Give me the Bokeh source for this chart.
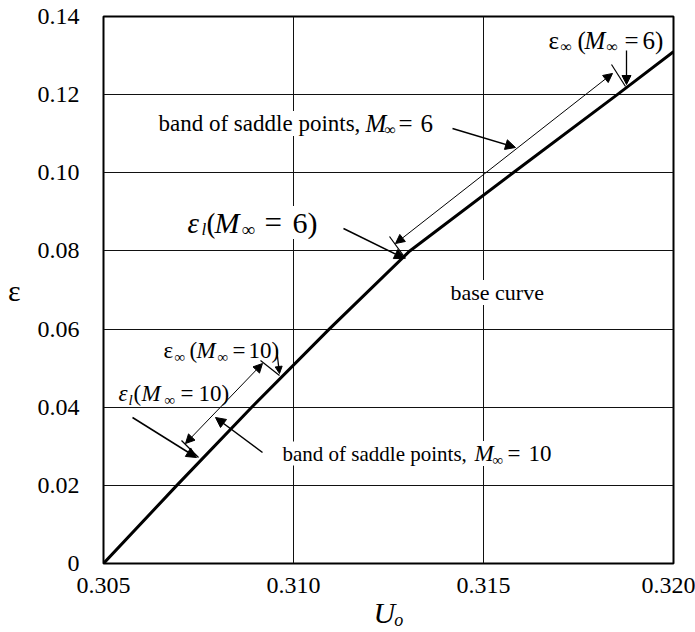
from bokeh.plotting import figure
from bokeh.models import Range1d, FixedTicker, Label, Arrow, NormalHead
from bokeh.embed import file_html
from bokeh.resources import INLINE

# ---- data ----
u0_base = [0.3050, 0.30693, 0.30890, 0.31094, 0.31306, 0.31578, 0.31852, 0.3200]
eps_base = [0.0, 0.02, 0.04, 0.06, 0.08, 0.10, 0.12, 0.131]

x_ticks = [0.305, 0.310, 0.315, 0.320]
x_tick_labels = ["0.305", "0.310", "0.315", "0.320"]
y_ticks = [0.0, 0.02, 0.04, 0.06, 0.08, 0.10, 0.12, 0.14]
y_tick_labels = ["0", "0.02", "0.04", "0.06", "0.08", "0.10", "0.12", "0.14"]

# band of saddle points (data coords: start/end of the double arrow)
band6 = dict(u=[0.312684, 0.318395], e=[0.08190, 0.12542])
band10 = dict(u=[0.307158, 0.309184], e=[0.03071, 0.05119])

FONT = "Liberation Serif"
AXFONT = "'Liberation Serif', 'Times New Roman', serif"
W, H = 695, 632
L, R, T, B = 103, 22, 16, 69
XMIN, XMAX, YMIN, YMAX = 0.305, 0.320, 0.0, 0.14


def fx(px):
    return XMIN + (px - L) * (XMAX - XMIN) / (W - L - R)


def fy(py):
    return YMIN + (H - B - py) * (YMAX - YMIN) / (H - B - T)


p = figure(width=W, height=H, x_range=Range1d(XMIN, XMAX), y_range=Range1d(YMIN, YMAX),
           output_backend="svg", toolbar_location=None,
           min_border_left=L, min_border_right=R, min_border_top=T, min_border_bottom=B)
p.background_fill_color = "white"
p.border_fill_color = "white"
p.outline_line_color = "black"
p.outline_line_width = 2

xa = p.xaxis[0]
ya = p.yaxis[0]
xa.ticker = FixedTicker(ticks=x_ticks)
ya.ticker = FixedTicker(ticks=y_ticks)
xa.major_label_overrides = {t: s for t, s in zip(x_ticks, x_tick_labels)}
ya.major_label_overrides = {t: s for t, s in zip(y_ticks, y_tick_labels)}
for ax in (xa, ya):
    ax.axis_line_color = None
    ax.major_tick_line_color = None
    ax.minor_tick_line_color = None
    ax.major_label_text_font = AXFONT
    ax.major_label_text_font_size = "24px"
    ax.major_label_text_color = "black"
    ax.axis_label_text_font = AXFONT
    ax.axis_label_text_color = "black"
ya.major_label_standoff = 18
xa.major_label_standoff = 8

# axis titles
xa.axis_label = "Uₒ"
xa.axis_label_text_font_style = "italic"
xa.axis_label_text_font_size = "30px"
xa.axis_label_standoff = 0
ya.axis_label = "ε"
ya.axis_label_text_font_style = "normal"
ya.axis_label_text_font_size = "30px"
ya.axis_label_standoff = 14
try:
    ya.axis_label_orientation = "horizontal"
except Exception:
    pass

p.xgrid.ticker = FixedTicker(ticks=x_ticks)
p.ygrid.ticker = FixedTicker(ticks=y_ticks)
for g in (p.xgrid[0], p.ygrid[0]):
    g.grid_line_color = "#111111"
    g.grid_line_alpha = 1.0
    g.grid_line_width = 1

# base curve
p.line(u0_base, eps_base, line_color="black", line_width=3, line_join="round")


def arrow(x0, y0, x1, y1, both=False, lw=1.3, size=10):
    head = lambda: NormalHead(size=size, fill_color="black", line_color="black", line_width=1)
    a = Arrow(x_start=x0, y_start=y0, x_end=x1, y_end=y1, line_color="black", line_width=lw,
              end=head(), start=head() if both else None)
    p.add_layout(a)


def seg(x0, y0, x1, y1, lw=1.2):
    p.line([x0, x1], [y0, y1], line_color="black", line_width=lw)


def txt(px, py, s, size, style="normal", bg=True):
    p.add_layout(Label(x=fx(px), y=fy(py), text=s, text_font=FONT, text_font_size=f"{size}px",
                       text_font_style=style, text_color="black", text_align="left",
                       text_baseline="middle",
                       background_fill_color="white" if bg else None))


# band arrows
arrow(band6["u"][0], band6["e"][0], band6["u"][1], band6["e"][1], both=True, lw=1, size=9)
arrow(band10["u"][0], band10["e"][0], band10["u"][1], band10["e"][1], both=True, lw=1, size=9)

# end ticks of the bands
seg(fx(389), fy(236), fx(405), fy(258))
seg(fx(611), fy(64), fx(625), fy(86))
seg(fx(181), fy(440), fx(198), fy(457))
seg(fx(260), fy(360), fx(279), fy(375))

# pointer arrows
arrow(fx(626), fy(50), fx(626), fy(84), size=9)          # eps_inf (M=6)
arrow(fx(452), fy(128), fx(515), fy(147), lw=1.5)        # band M=6
arrow(fx(343), fy(228), fx(404), fy(258), lw=1.5)        # eps_l (M=6)
arrow(fx(276), fy(348), fx(279), fy(373), size=7)        # eps_inf (M=10)
arrow(fx(132), fy(417), fx(196), fy(457), lw=1.5)        # eps_l (M=10)
arrow(fx(262), fy(452), fx(215), fy(417), lw=1.5)        # band M=10

# --- texts ---
# eps_inf (M_inf = 6)
txt(548, 40, "ε", 25)
txt(560, 46, "∞", 16, bg=False)
txt(577, 40, "(", 25, bg=False)
txt(584, 40, "M", 25, "italic", bg=False)
txt(606, 46, "∞", 16, bg=False)
txt(624, 40, "=", 25, bg=False)
txt(642, 40, "6)", 25, bg=False)

# band of saddle points, M_inf = 6
txt(158, 123, "band of saddle points,", 23)
txt(365, 123, "M", 25, "italic")
txt(384, 129, "∞", 16, bg=False)
txt(398, 123, "=", 25, bg=False)
txt(420, 123, "6", 25, bg=False)

# eps_l (M_inf = 6)
txt(187, 222, "ε", 29, "italic")
txt(201, 229, "l", 17, "italic")
txt(206, 222, "(", 29)
txt(214, 222, "M", 30, "italic")
txt(241, 229, "∞", 19)
txt(264, 222, "=", 31)
txt(292, 222, "6)", 30)

# base curve
txt(450, 292, "base curve", 22)

# eps_inf (M_inf = 10)
txt(163, 350, "ε", 23, bg=False)
txt(174, 356, "∞", 15, bg=False)
txt(189, 350, "(", 23, bg=False)
txt(196, 350, "M", 23, "italic", bg=False)
txt(217, 356, "∞", 15, bg=False)
txt(232, 350, "=", 23, bg=False)
txt(248, 350, "10)", 23, bg=False)

# eps_l (M_inf = 10)
txt(118, 393, "ε", 23, "italic", bg=False)
txt(128, 399, "l", 15, "italic", bg=False)
txt(133, 393, "(", 23, bg=False)
txt(141, 393, "M", 23, "italic", bg=False)
txt(164, 399, "∞", 15, bg=False)
txt(180, 393, "=", 23, bg=False)
txt(198, 393, "10)", 23, bg=False)

# band of saddle points, M_inf = 10
txt(282, 453, "band of saddle points,", 21)
txt(474, 453, "M", 23, "italic")
txt(492, 459, "∞", 15, bg=False)
txt(507, 453, "=", 23, bg=False)
txt(528, 453, "10", 23, bg=False)

open("out.html", "w").write(file_html(p, INLINE))
